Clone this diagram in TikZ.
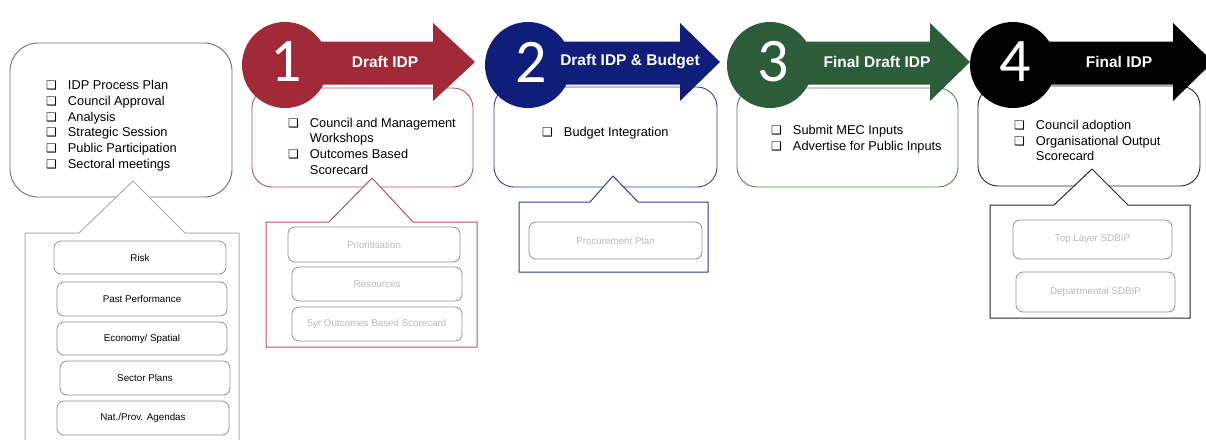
\documentclass[tikz,border=0pt]{standalone}
\usepackage{fontspec}
\setmainfont{Liberation Sans}
\newfontfamily\digitfont{Carlito}
\newfontfamily\symfont{DejaVu Sans}

\definecolor{stepred}{RGB}{160,42,56}
\definecolor{stepredline}{RGB}{185,80,92}
\definecolor{stepblue}{RGB}{16,30,122}
\definecolor{stepblueline}{RGB}{50,60,145}
\definecolor{stepgreen}{RGB}{44,92,58}
\definecolor{stepgreenline}{RGB}{85,125,90}
\definecolor{stepblack}{RGB}{0,0,0}
\definecolor{boxgrey}{RGB}{110,110,110}
\definecolor{calloutgrey}{RGB}{175,175,175}
\definecolor{subline}{RGB}{145,145,145}
\definecolor{subtext}{RGB}{185,185,185}

\newcommand{\bul}{{\symfont\fontsize{12}{12}\selectfont ❑}}

\tikzset{
  upbox/.style={draw, line width=0.9pt, fill=white, rounded corners=20pt},
  callbox/.style={draw, line width=1pt, fill=white},
  subbox/.style={draw=subline, line width=0.8pt, rounded corners=7pt, fill=white},
  subtxt/.style={text=subtext, font=\fontsize{9.8}{11}\selectfont},
  subtxtdark/.style={text=black, font=\fontsize{9.8}{11}\selectfont},
  listtxt/.style={anchor=west, inner sep=0pt, font=\fontsize{12.8}{15.7}\selectfont},
  digit/.style={text=white, font=\digitfont\fontsize{62}{62}\selectfont, inner sep=0pt},
  arrowtitle/.style={text=white, font=\bfseries\fontsize{15.5}{18}\selectfont, inner sep=0pt}
}

% step arrow: circle at (#2,65), shaft up to #3, tip at #4
\newcommand{\steparrow}[4]{%
  \fill[#1] (#2,41.5) -- (#3,41.5) -- (#3,23) -- (#4,62) -- (#3,101) -- (#3,84.5) -- (#2,84.5) -- cycle;
  \fill[#1] (#2,65) circle (43);
}

\begin{document}
\begin{tikzpicture}[x=1pt,y=-1pt]
\useasboundingbox (0,0) rectangle (1206,439);

% upper boxes
\draw[upbox, draw=boxgrey, rounded corners=28pt] (10,43) rectangle (232,197);
\draw[upbox, draw=stepredline] (252,88) rectangle (473,187);
\draw[upbox, draw=stepblueline] (494,87) rectangle (717,187);
\draw[upbox, draw=stepgreenline] (737,88) rectangle (958,187);
\draw[upbox, draw=black!85] (978,86) rectangle (1200,186);

% callouts below the boxes
\draw[callbox, draw=calloutgrey] (79,233) -- (133,181) -- (185,233) -- (239,233) -- (239,445) -- (25,445) -- (25,233) -- cycle;
\draw[callbox, draw=stepredline] (329,222) -- (372,178) -- (413,222) -- (477,222) -- (477,347) -- (266,347) -- (266,222) -- cycle;
\draw[callbox, draw=stepblueline] (590,202) -- (613,176) -- (638,202) -- (708,202) -- (708,272) -- (519,272) -- (519,202) -- cycle;
\draw[callbox, draw=black!85] (1054,205) -- (1092,169) -- (1128,205) -- (1190,205) -- (1190,318) -- (990,318) -- (990,205) -- cycle;

% step arrows
\steparrow{stepred}{285}{433}{475}
\steparrow{stepblue}{528}{680}{720}
\steparrow{stepgreen}{770}{930}{970}
\steparrow{stepblack}{1013}{1173}{1213}

\node[digit] (d1) at (286,62) {1};
\node[digit] (d2) at (531,62) {2};
\node[digit] (d3) at (773,62) {3};
\node[digit] (d4) at (1015,62) {4};

\node[arrowtitle] (t1) at (385,62) {Draft IDP};
\node[arrowtitle] (t2) at (630,62) {Draft IDP \& Budget};
\node[arrowtitle] (t3) at (877,62) {Final Draft IDP};
\node[arrowtitle] (t4) at (1119,62) {Final IDP};

% lists
\node[listtxt] (l0) at (46,126) {\begin{tabular}{@{}l@{\hspace{11pt}}l@{}}
\bul & IDP Process Plan\\
\bul & Council Approval\\
\bul & Analysis\\
\bul & Strategic Session\\
\bul & Public Participation\\
\bul & Sectoral meetings
\end{tabular}};

\node[listtxt] (l1) at (288,147.5) {\begin{tabular}{@{}l@{\hspace{11pt}}l@{}}
\bul & Council and Management\\
 & Workshops\\
\bul & Outcomes Based\\
 & Scorecard
\end{tabular}};

\node[listtxt] (l2) at (542,133) {\begin{tabular}{@{}l@{\hspace{11pt}}l@{}}
\bul & Budget Integration
\end{tabular}};

\node[listtxt] (l3) at (771,139.5) {\begin{tabular}{@{}l@{\hspace{11pt}}l@{}}
\bul & Submit MEC Inputs\\
\bul & Advertise for Public Inputs
\end{tabular}};

\node[listtxt] (l4) at (1014,142) {\begin{tabular}{@{}l@{\hspace{11pt}}l@{}}
\bul & Council adoption\\
\bul & Organisational Output\\
 & Scorecard
\end{tabular}};

% sub-items, left column
\draw[subbox] (54,241) rectangle node[subtxtdark] (s01) {Risk} (226,274);
\draw[subbox] (57,282) rectangle node[subtxtdark] (s02) {Past Performance} (227,316);
\draw[subbox] (57,322) rectangle node[subtxtdark] (s03) {Economy/ Spatial} (227,355);
\draw[subbox] (60,361) rectangle node[subtxtdark] (s04) {Sector Plans} (230,395);
\draw[subbox] (57,401) rectangle node[subtxtdark] (s05) {Nat./Prov. Agendas} (229,435);

% sub-items, step 1
\draw[subbox] (288,227) rectangle node[subtxt] (s11) {Prioritisation} (460,262);
\draw[subbox] (292,267) rectangle node[subtxt] (s12) {Resources} (462,301);
\draw[subbox] (292,307) rectangle node[subtxt] (s13) {5yr Outcomes Based Scorecard} (462,341);

% sub-items, step 2
\draw[subbox] (529,222) rectangle node[subtxt] (s21) {Procurement Plan} (702,259);

% sub-items, step 4
\draw[subbox] (1013,220) rectangle node[subtxt] (s41) {Top Layer SDBIP} (1172,259);
\draw[subbox] (1016,272) rectangle node[subtxt] (s42) {Departmental SDBIP} (1175,312);
\end{tikzpicture}
\end{document}
